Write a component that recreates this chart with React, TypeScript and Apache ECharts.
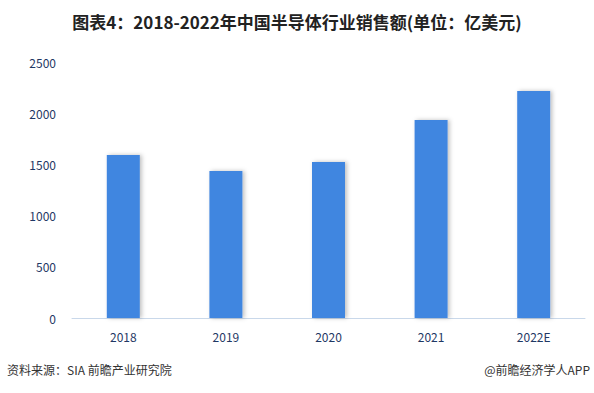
import React, { useEffect, useRef } from "react";
import * as echarts from "echarts";

const categories = ["2018", "2019", "2020", "2021", "2022E"];
const sales = [1592, 1436, 1523, 1934, 2217];
const yTicks = [0, 500, 1000, 1500, 2000, 2500];

export default function App() {
  const ref = useRef<HTMLDivElement>(null);
  useEffect(() => {
    if (!ref.current) return;
    const chart = echarts.init(ref.current, undefined, { renderer: "svg" });
    chart.setOption({
      animation: false,
      backgroundColor: "#ffffff",
      title: {
        text: "图表4：2018-2022年中国半导体行业销售额(单位：亿美元)",
        left: "center",
        top: 8,
        textStyle: {
          fontFamily: "Noto Sans CJK SC",
          fontSize: 17,
          fontWeight: "bold",
          color: "#222222",
        },
      },
      graphic: [
        {
          type: "text",
          left: 7,
          top: 363,
          style: {
            text: "资料来源：SIA 前瞻产业研究院",
            font: "12px 'Noto Sans CJK SC'",
            fill: "#333333",
          },
        },
        {
          type: "text",
          right: 4,
          top: 363,
          style: {
            text: "@前瞻经济学人APP",
            font: "12px 'Noto Sans CJK SC'",
            fill: "#333333",
          },
        },
      ],
      grid: { left: 72, right: 9, top: 62, bottom: 75 },
      xAxis: {
        type: "category",
        data: categories,
        axisLine: { lineStyle: { color: "#c9d8ea", width: 1 } },
        axisTick: { show: false },
        axisLabel: {
          color: "#1f3864",
          fontSize: 12,
          margin: 12,
          fontFamily: "Noto Sans CJK SC",
        },
      },
      yAxis: {
        type: "value",
        min: yTicks[0],
        max: yTicks[yTicks.length - 1],
        interval: 500,
        splitLine: { show: false },
        axisLine: { show: false },
        axisTick: { show: false },
        axisLabel: {
          color: "#1f3864",
          fontSize: 12,
          margin: 16,
          fontFamily: "Noto Sans CJK SC",
          formatter: (v: number) => String(v),
        },
      },
      series: [
        {
          type: "bar",
          data: sales,
          barWidth: 33,
          itemStyle: {
            color: "#4186e0",
            shadowColor: "rgba(0,0,0,0.25)",
            shadowBlur: 4,
            shadowOffsetX: 2,
            shadowOffsetY: 0,
          },
        },
      ],
    });
    return () => chart.dispose();
  }, []);
  return <div ref={ref} style={{ width: 594, height: 393, position: "absolute", left: 0, top: 0 }} />;
}
